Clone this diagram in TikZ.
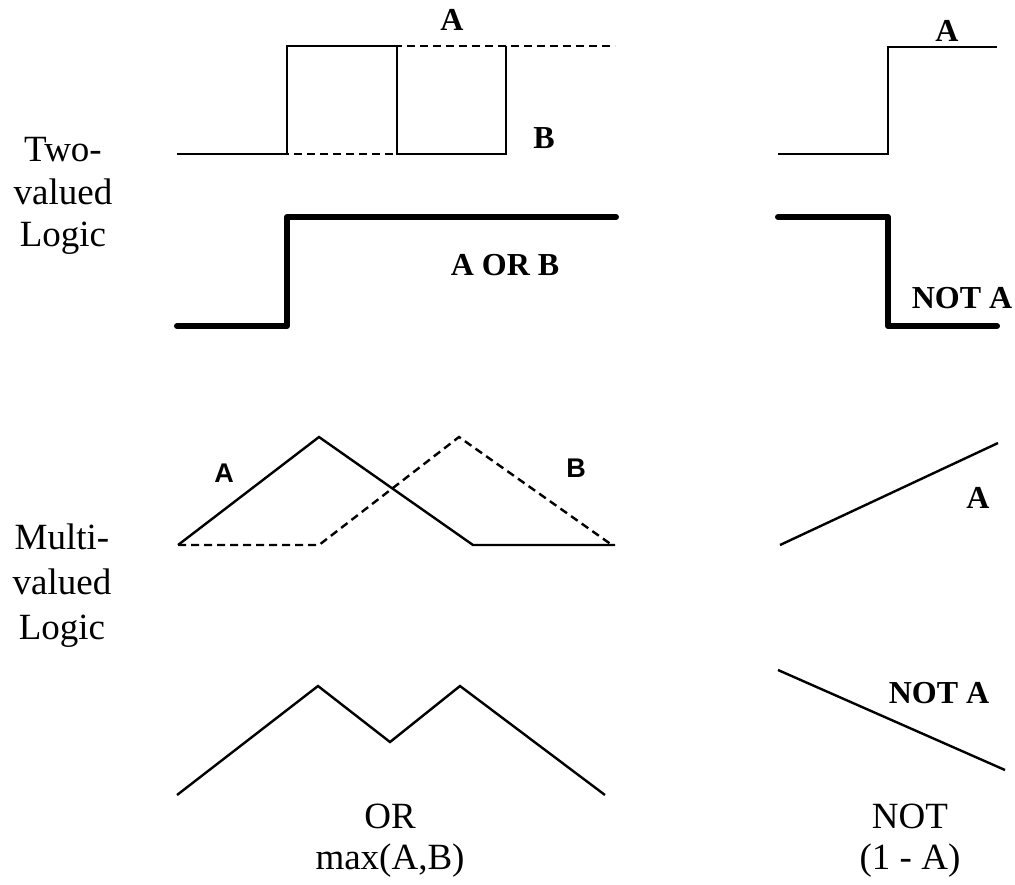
\documentclass[tikz,border=0pt]{standalone}
\usepackage{fontspec}
\setmainfont{Liberation Serif}
\newfontfamily\lblsans{Liberation Sans}
\usetikzlibrary{positioning}

\begin{document}
\begin{tikzpicture}[
  x=0.5pt, y=-0.5pt,
  font=\fontsize{18.5}{22}\selectfont,
  % --- signal styles ---
  sig/.style={line width=1pt},
  sigdash/.style={sig, dash pattern=on 4pt off 2.5pt},
  outsig/.style={line width=3pt, line cap=round, line join=round},
  ramp/.style={line width=1.2pt},
  rampdash/.style={ramp, dash pattern=on 4pt off 2.5pt},
  % --- labels ---
  rowlbl/.style={anchor=base, inner sep=0pt},
  lbl/.style={font=\fontsize{16}{19}\selectfont\bfseries, anchor=base, inner sep=0pt},
  slbl/.style={font=\lblsans\fontsize{13.5}{16}\selectfont\bfseries, anchor=base, inner sep=0pt},
]
\useasboundingbox (0,0) rectangle (1015,884);

% =================== ROW LABELS ===================
\node[rowlbl] (twoL1) at (63,161) {Two-};
\node[rowlbl] (twoL2) at (63,204) {valued};
\node[rowlbl] (twoL3) at (63,246) {Logic};
\node[rowlbl] (mulL1) at (62,549) {Multi-};
\node[rowlbl] (mulL2) at (62,594) {valued};
\node[rowlbl] (mulL3) at (62,639) {Logic};

% =================== TWO-VALUED: OR ===================
\draw[sig] (177,154) -- (287,154) -- (287,46) -- (397,46) -- (397,154) -- (506,154) -- (506,46);
\draw[sigdash] (177,154) -- (397,154) -- (397,46) -- (615,46);
\node[lbl] (orA) at (452,30) {A};
\node[lbl] (orB) at (544,148) {B};

\draw[outsig] (177,326) -- (287,326) -- (287,217) -- (616,217);
\node[lbl] (orAB) at (505,275) {A OR B};

% =================== TWO-VALUED: NOT ===================
\draw[sig] (778,154) -- (888,154) -- (888,47) -- (997,47);
\node[lbl] (notA) at (947,41) {A};

\draw[outsig] (778,217) -- (888,217) -- (888,326) -- (997,326);
\node[lbl] (notNA) at (962,308) {NOT A};

% =================== MULTI-VALUED: OR ===================
\draw[ramp] (178,545) -- (319,437) -- (473,545) -- (615,545);
\draw[rampdash] (178,545) -- (319,545) -- (459,437) -- (612,545);
\node[slbl] (mA) at (224,482) {A};
\node[slbl] (mB) at (576,477) {B};

\draw[ramp] (177,795) -- (318,686) -- (390,742) -- (460,686) -- (605,795);

% =================== MULTI-VALUED: NOT ===================
\draw[ramp] (780,545) -- (998,443);
\node[lbl] (mnA) at (978,508) {A};

\draw[ramp] (778,670) -- (1005,770);
\node[lbl] (mnNA) at (939,703) {NOT A};

% =================== COLUMN LABELS ===================
\node[rowlbl] (orL1) at (390,828) {OR};
\node[rowlbl] (orL2) at (390,869) {max(A,B)};
\node[rowlbl] (notL1) at (910,828) {NOT};
\node[rowlbl] (notL2) at (910,869) {(1 - A)};

\end{tikzpicture}
\end{document}
